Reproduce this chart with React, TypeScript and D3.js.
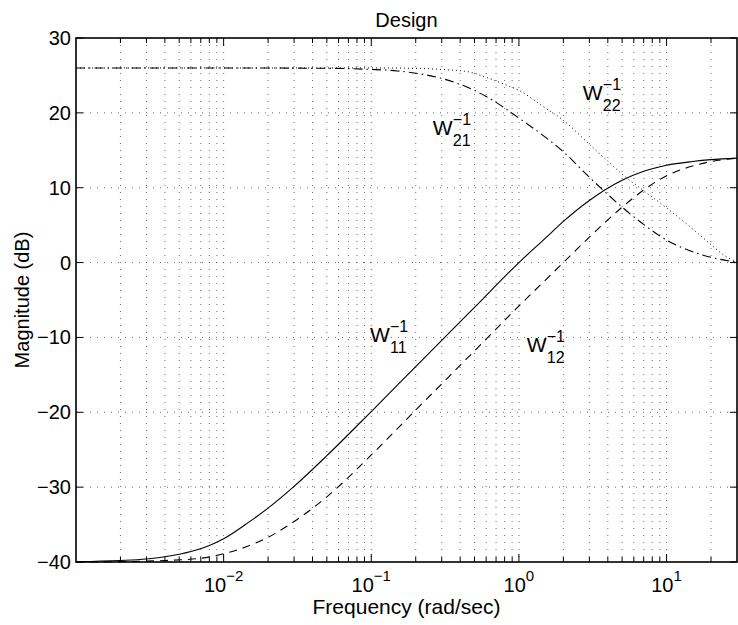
import React from "react";
import * as d3 from "d3";

// ---- data ----
const freq11 = [0.001, 0.002, 0.003, 0.004, 0.006, 0.008, 0.01, 0.015, 0.02, 0.03, 0.05, 0.1, 0.2, 0.3, 0.5, 1, 1.5, 2, 3, 5, 7, 10, 15, 20, 30];
const mag11 = [-39.95, -39.8, -39.6, -39.3, -38.6, -37.8, -36.9, -34.6, -32.8, -29.9, -25.8, -19.9, -13.9, -10.4, -6.0, 0.0, 3.2, 5.5, 8.3, 11.0, 12.2, 13.0, 13.5, 13.75, 13.95];

const freq12 = [0.001, 0.002, 0.004, 0.007, 0.01, 0.015, 0.02, 0.03, 0.05, 0.1, 0.2, 0.5, 1, 1.5, 2, 3, 5, 7, 10, 15, 20, 30];
const mag12 = [-40.0, -39.95, -39.8, -39.5, -38.9, -37.8, -36.7, -34.6, -31.3, -25.7, -19.7, -11.8, -5.8, -2.4, 0.0, 3.4, 7.4, 9.7, 11.6, 12.9, 13.5, 13.95];

const freq21 = [0.001, 0.01, 0.05, 0.1, 0.15, 0.2, 0.3, 0.4, 0.5, 0.7, 1, 1.5, 2, 3, 4, 5, 7, 10, 15, 20, 30];
const mag21 = [26.0, 26.0, 25.95, 25.8, 25.6, 25.3, 24.6, 23.8, 23.0, 21.4, 19.3, 16.8, 14.8, 11.4, 9.1, 7.4, 5.1, 3.0, 1.45, 0.7, 0.05];

const freq22 = [0.001, 0.01, 0.1, 0.2, 0.3, 0.45, 0.6, 0.8, 1, 1.5, 2, 3, 4, 5, 7, 10, 15, 20, 25, 30];
const mag22 = [26.0, 26.0, 26.0, 25.95, 25.8, 25.5, 24.75, 23.8, 23.0, 20.7, 19.0, 15.8, 13.55, 11.8, 9.6, 7.3, 4.5, 2.4, 0.86, 0.1];

const yTicks = [-40, -30, -20, -10, 0, 10, 20, 30];
const xMajor = [0.01, 0.1, 1, 10];
const xMajorExp = ["−2", "−1", "0", "1"];

const labelNames = ["11", "12", "21", "22"];
const labelFreq = [0.098, 1.13, 0.261, 2.71];
const labelMag = [-10.6, -11.9, 17.0, 21.7];

const FONT = "'Liberation Sans', Arial, Helvetica, sans-serif";

export default function App() {
  const W = 738, H = 625;
  const L = 76, R = 737, T = 38, B = 562;
  const x = d3.scaleLog().domain([0.001, 30]).range([L, R]);
  const y = d3.scaleLinear().domain([-40, 30]).range([B, T]);

  const minor: number[] = [];
  for (let e = -3; e <= 1; e++) {
    for (let k = 1; k <= 9; k++) {
      const v = k * Math.pow(10, e);
      if (v > 0.001 * 1.0001 && v < 30 * 0.9999) minor.push(v);
    }
  }

  const line = d3
    .line<[number, number]>()
    .x((d) => x(d[0]))
    .y((d) => y(d[1]))
    .curve(d3.curveMonotoneX);

  const zip = (f: number[], m: number[]) => f.map((v, i) => [v, m[i]] as [number, number]);

  const series = [
    { d: zip(freq11, mag11), dash: undefined as string | undefined, w: 1.1 },
    { d: zip(freq12, mag12), dash: "8,6", w: 1.1 },
    { d: zip(freq21, mag21), dash: "9,4,1.5,4", w: 1.1 },
    { d: zip(freq22, mag22), dash: "1,3", w: 1 },
  ];

  return (
    <svg width={W} height={H} style={{ display: "block", position: "absolute", left: 0, top: 0 }} fontFamily={FONT}>
      <rect x={0} y={0} width={W} height={H} fill="#fff" />
      {/* grid */}
      {minor.map((v, i) => (
        <line key={"gx" + i} x1={x(v)} x2={x(v)} y1={T} y2={B} stroke="#444" strokeWidth={0.8} strokeDasharray="1,6" />
      ))}
      {yTicks.slice(1, -1).map((v, i) => (
        <line key={"gy" + i} x1={L} x2={R} y1={y(v)} y2={y(v)} stroke="#444" strokeWidth={0.8} strokeDasharray="1,6" />
      ))}
      {/* curves */}
      {series.map((s, i) => (
        <path key={"s" + i} d={line(s.d) || ""} fill="none" stroke="#000" strokeWidth={s.w} strokeDasharray={s.dash} />
      ))}
      {/* box */}
      <rect x={L} y={T} width={R - L} height={B - T} fill="none" stroke="#000" strokeWidth={1.6} />
      {/* x ticks */}
      {minor.map((v, i) => {
        const major = xMajor.some((m) => Math.abs(m - v) / m < 1e-6);
        const len = major ? 8 : 5;
        return (
          <g key={"xt" + i}>
            <line x1={x(v)} x2={x(v)} y1={B} y2={B - len} stroke="#000" strokeWidth={1} />
            <line x1={x(v)} x2={x(v)} y1={T} y2={T + len} stroke="#000" strokeWidth={1} />
          </g>
        );
      })}
      {/* y ticks */}
      {yTicks.map((v, i) => (
        <g key={"yt" + i}>
          <line x1={L} x2={L + 7} y1={y(v)} y2={y(v)} stroke="#000" strokeWidth={1} />
          <line x1={R} x2={R - 7} y1={y(v)} y2={y(v)} stroke="#000" strokeWidth={1} />
          <text x={L - 5} y={y(v) + 7} textAnchor="end" fontSize={20}>
            {v < 0 ? "−" + Math.abs(v) : String(v)}
          </text>
        </g>
      ))}
      {/* x tick labels */}
      {xMajor.map((v, i) => (
        <text key={"xl" + i} x={x(v)} y={592} textAnchor="middle" fontSize={20}>
          10
          <tspan fontSize={15} dy={-11}>{xMajorExp[i]}</tspan>
        </text>
      ))}
      {/* axis labels */}
      <text x={(L + R) / 2} y={614} textAnchor="middle" fontSize={21}>Frequency (rad/sec)</text>
      <text transform={`translate(29,${(T + B) / 2}) rotate(-90)`} textAnchor="middle" fontSize={20}>Magnitude (dB)</text>
      <text x={(L + R) / 2} y={27} textAnchor="middle" fontSize={20}>Design</text>
      {/* curve labels */}
      {labelNames.map((n, i) => {
        const lx = x(labelFreq[i]);
        const ly = y(labelMag[i]);
        return (
          <g key={"lb" + i}>
            <text x={lx} y={ly} fontSize={21}>W</text>
            <text x={lx + 20} y={ly - 10} fontSize={16}>−1</text>
            <text x={lx + 20} y={ly + 11} fontSize={16}>{n}</text>
          </g>
        );
      })}
    </svg>
  );
}
